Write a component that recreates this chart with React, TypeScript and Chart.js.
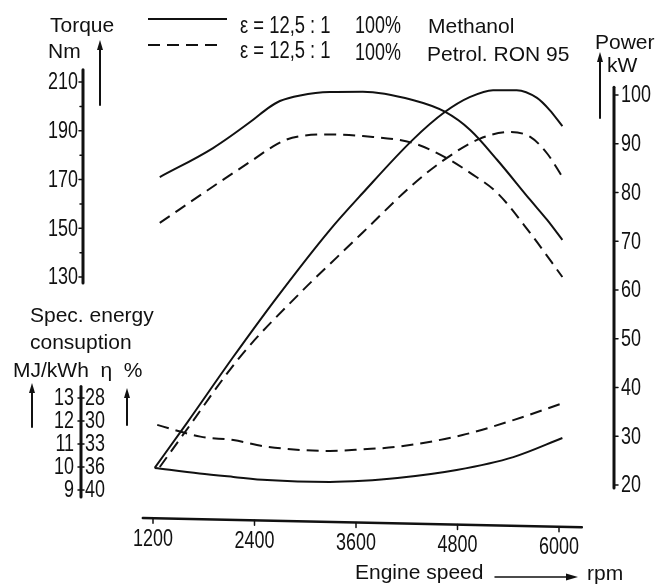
import React, { useEffect, useRef } from "react";
import { Chart, registerables } from "chart.js";

Chart.register(...registerables);

// ---------- data ----------
const rpmTorqueMethanol = [1280, 1910, 2380, 2560, 2700, 2940, 3290, 3680, 4270, 4650, 4950, 5270, 5660, 5860, 6040];
const torqueMethanol = [171.0, 182.9, 194.4, 199.3, 202.2, 204.5, 205.9, 206.0, 202.6, 197.8, 190.3, 178.0, 161.6, 153.4, 145.2];

const rpmTorquePetrol = [1280, 1960, 2380, 2620, 2780, 2940, 3290, 3680, 4270, 4650, 4950, 5270, 5660, 6040];
const torquePetrol = [152.2, 168.3, 178.0, 183.6, 186.4, 187.8, 188.5, 187.8, 185.0, 179.2, 172.7, 164.5, 148.0, 130.0];

const rpmPowerMethanol = [1220, 1600, 2150, 2670, 3290, 3680, 4270, 4650, 4950, 5220, 5500, 5740, 5890, 6040];
const powerMethanol = [23.5, 32.7, 46.3, 58.6, 72.3, 79.9, 90.8, 96.5, 99.6, 101.0, 101.0, 99.4, 96.9, 93.6];

const rpmPowerPetrol = [1280, 1580, 2230, 2940, 3380, 3680, 4270, 4650, 5060, 5420, 5660, 5860, 6040];
const powerPetrol = [23.7, 30.9, 46.3, 59.4, 66.8, 71.8, 81.6, 86.8, 91.0, 92.4, 91.4, 88.0, 83.2];

const rpmSecMethanol = [1220, 1750, 2150, 2550, 3290, 3680, 4090, 4790, 5460, 6040];
const secMethanol = [9.96, 9.72, 9.57, 9.43, 9.35, 9.40, 9.52, 9.87, 10.43, 11.26];

const rpmSecPetrol = [1250, 1760, 2150, 2550, 3290, 3680, 4090, 4860, 5460, 6040];
const secPetrol = [11.83, 11.32, 11.17, 10.88, 10.70, 10.77, 10.88, 11.39, 12.04, 12.77];

const rpmTicks = [1200, 2400, 3600, 4800, 6000];
const torqueTicks = [210, 190, 170, 150, 130];
const torqueMinorTicks = [200, 180, 160, 140];
const powerTicks = [100, 90, 80, 70, 60, 50, 40, 30, 20];
const secTicks = [13, 12, 11, 10, 9];
const etaTicks = [28, 30, 33, 36, 40];

const legendRatio = "ε = 12,5 : 1";
const legendShare = "100%";
const legendFuels = ["Methanol", "Petrol. RON 95"];

// ---------- layout ----------
const W = 660;
const H = 587;
function rangeFromAnchors(v1: number, p1: number, v2: number, p2: number, pStart: number, pEnd: number) {
  const k = (v2 - v1) / (p2 - p1);
  const a = v1 + (pStart - p1) * k;
  const b = v1 + (pEnd - p1) * k;
  return { min: Math.min(a, b), max: Math.max(a, b) };
}
const xRange = rangeFromAnchors(1200, 153, 6000, 559, 0, W);
const tRange = rangeFromAnchors(210, 82, 130, 277, 0, H);
const pRange = rangeFromAnchors(100, 95, 20, 485, 0, H);
const eRange = rangeFromAnchors(13, 398, 9, 490, 0, H);

const WORD_FONT = '21px "Liberation Sans", Arial, sans-serif';
const NUM_FONT = '23px "Liberation Sans", Arial, sans-serif';
const NUM_SQUEEZE = 0.78;
const INK = "#111";
const DASH = [12, 7];

function toXY(xs: number[], ys: number[]) {
  return xs.map((x, i) => ({ x, y: ys[i] }));
}

function squeezed(ctx: CanvasRenderingContext2D, text: string, x: number, y: number, align: CanvasTextAlign, k = NUM_SQUEEZE) {
  ctx.save();
  ctx.translate(x, y);
  ctx.scale(k, 1);
  ctx.textAlign = align;
  ctx.fillText(text, 0, 0);
  ctx.restore();
}

function arrowUp(ctx: CanvasRenderingContext2D, x: number, yTop: number, yBottom: number) {
  ctx.beginPath();
  ctx.moveTo(x, yBottom);
  ctx.lineTo(x, yTop + 6);
  ctx.stroke();
  ctx.beginPath();
  ctx.moveTo(x, yTop);
  ctx.lineTo(x - 3, yTop + 10);
  ctx.lineTo(x + 3, yTop + 10);
  ctx.closePath();
  ctx.fill();
}

const overlay = {
  id: "overlay",
  beforeDraw(chart: any) {
    const ctx = chart.ctx as CanvasRenderingContext2D;
    ctx.save();
    ctx.fillStyle = "#fff";
    ctx.fillRect(0, 0, chart.width, chart.height);
    ctx.restore();
  },
  afterDraw(chart: any) {
    const ctx = chart.ctx as CanvasRenderingContext2D;
    const sx = chart.scales.x;
    const sT = chart.scales.yT;
    const sP = chart.scales.yP;
    const sE = chart.scales.yE;
    ctx.save();
    ctx.strokeStyle = INK;
    ctx.fillStyle = INK;
    ctx.lineCap = "round";

    // ---- torque axis (left, top) ----
    const tx = 83;
    ctx.lineWidth = 3;
    ctx.beginPath();
    ctx.moveTo(tx, sT.getPixelForValue(215));
    ctx.lineTo(tx, sT.getPixelForValue(127.5));
    ctx.stroke();
    ctx.lineWidth = 1.5;
    torqueTicks.forEach((v) => {
      const y = sT.getPixelForValue(v);
      ctx.beginPath();
      ctx.moveTo(tx - 4, y);
      ctx.lineTo(tx, y);
      ctx.stroke();
    });
    torqueMinorTicks.forEach((v) => {
      const y = sT.getPixelForValue(v);
      ctx.beginPath();
      ctx.moveTo(tx - 3, y);
      ctx.lineTo(tx, y);
      ctx.stroke();
    });
    ctx.font = NUM_FONT;
    ctx.textBaseline = "middle";
    torqueTicks.forEach((v) => squeezed(ctx, String(v), tx - 5, sT.getPixelForValue(v) + 1, "right"));
    ctx.font = WORD_FONT;
    ctx.textAlign = "left";
    ctx.textBaseline = "alphabetic";
    ctx.fillText("Torque", 50, 32);
    ctx.fillText("Nm", 48, 58);
    ctx.lineWidth = 2;
    arrowUp(ctx, 100, 40, 105);

    // ---- power axis (right) ----
    const px = 614;
    ctx.lineWidth = 3;
    ctx.beginPath();
    ctx.moveTo(px, sP.getPixelForValue(101.6));
    ctx.lineTo(px, sP.getPixelForValue(19.4));
    ctx.stroke();
    ctx.lineWidth = 1.5;
    powerTicks.forEach((v) => {
      const y = sP.getPixelForValue(v);
      ctx.beginPath();
      ctx.moveTo(px, y);
      ctx.lineTo(px + 4, y);
      ctx.stroke();
    });
    ctx.font = NUM_FONT;
    ctx.textBaseline = "middle";
    powerTicks.forEach((v) => squeezed(ctx, String(v), px + 7, sP.getPixelForValue(v) + 1, "left"));
    ctx.font = WORD_FONT;
    ctx.textAlign = "left";
    ctx.textBaseline = "alphabetic";
    ctx.fillText("Power", 595, 49);
    ctx.fillText("kW", 607, 72);
    ctx.lineWidth = 2;
    arrowUp(ctx, 600, 52, 118);

    // ---- specific energy / efficiency axis ----
    const ex = 81;
    ctx.lineWidth = 3;
    ctx.beginPath();
    ctx.moveTo(ex, sE.getPixelForValue(13.5));
    ctx.lineTo(ex, sE.getPixelForValue(8.7));
    ctx.stroke();
    ctx.lineWidth = 1.5;
    secTicks.forEach((v) => {
      const y = sE.getPixelForValue(v);
      ctx.beginPath();
      ctx.moveTo(ex - 3, y);
      ctx.lineTo(ex + 3, y);
      ctx.stroke();
    });
    ctx.font = NUM_FONT;
    ctx.textBaseline = "middle";
    secTicks.forEach((v) => squeezed(ctx, String(v), ex - 7, sE.getPixelForValue(v) + 1, "right"));
    secTicks.forEach((v, i) => squeezed(ctx, String(etaTicks[i]), ex + 4, sE.getPixelForValue(v) + 1, "left"));
    ctx.font = WORD_FONT;
    ctx.textAlign = "left";
    ctx.textBaseline = "alphabetic";
    ctx.fillText("Spec. energy", 30, 322);
    ctx.fillText("consuption", 30, 349);
    ctx.fillText("MJ/kWh  η  %", 13, 377);
    ctx.lineWidth = 2;
    arrowUp(ctx, 32, 383, 427);
    arrowUp(ctx, 127, 388, 425);

    // ---- x axis (slightly tilted, as in the scan) ----
    const axisY = (x: number) => 518 + ((x - 143) * 9) / 429;
    const x0 = sx.getPixelForValue(1080);
    const x1 = sx.getPixelForValue(6270);
    ctx.lineWidth = 2.5;
    ctx.beginPath();
    ctx.moveTo(x0, axisY(x0));
    ctx.lineTo(x1, axisY(x1));
    ctx.stroke();
    ctx.lineWidth = 1.5;
    ctx.font = NUM_FONT;
    ctx.textBaseline = "middle";
    rpmTicks.forEach((r) => {
      const x = sx.getPixelForValue(r);
      const y = axisY(x);
      ctx.beginPath();
      ctx.moveTo(x, y);
      ctx.lineTo(x, y + 5);
      ctx.stroke();
      squeezed(ctx, String(r), x, y + 21, "center");
    });
    ctx.font = WORD_FONT;
    ctx.textAlign = "left";
    ctx.textBaseline = "alphabetic";
    ctx.fillText("Engine speed", 355, 579);
    ctx.fillText("rpm", 587, 580);
    ctx.lineWidth = 1.5;
    ctx.beginPath();
    ctx.moveTo(495, 577);
    ctx.lineTo(568, 577);
    ctx.stroke();
    ctx.beginPath();
    ctx.moveTo(578, 577);
    ctx.lineTo(566, 573.5);
    ctx.lineTo(566, 580.5);
    ctx.closePath();
    ctx.fill();

    // ---- legend ----
    ctx.lineWidth = 2;
    ctx.lineCap = "butt";
    ctx.beginPath();
    ctx.moveTo(148, 19);
    ctx.lineTo(227, 19);
    ctx.stroke();
    ctx.setLineDash(DASH);
    ctx.beginPath();
    ctx.moveTo(148, 45);
    ctx.lineTo(224, 45);
    ctx.stroke();
    ctx.setLineDash([]);
    ctx.font = NUM_FONT;
    squeezed(ctx, legendRatio, 240, 33, "left", 0.8);
    squeezed(ctx, legendRatio, 240, 58, "left", 0.8);
    squeezed(ctx, legendShare, 355, 33, "left");
    squeezed(ctx, legendShare, 355, 60, "left");
    ctx.font = WORD_FONT;
    ctx.textAlign = "left";
    ctx.fillText(legendFuels[0], 428, 33);
    ctx.fillText(legendFuels[1], 427, 61);

    ctx.restore();
  },
};

export default function App() {
  const ref = useRef<HTMLCanvasElement>(null);

  useEffect(() => {
    document.body.style.margin = "0";
    const solid = { borderColor: INK, borderWidth: 2, pointRadius: 0, fill: false, cubicInterpolationMode: "monotone" as const };
    const dashed = { ...solid, borderDash: DASH };
    const chart = new Chart(ref.current as HTMLCanvasElement, {
      type: "line",
      data: {
        datasets: [
          { label: "Torque Methanol", data: toXY(rpmTorqueMethanol, torqueMethanol), yAxisID: "yT", ...solid },
          { label: "Torque Petrol", data: toXY(rpmTorquePetrol, torquePetrol), yAxisID: "yT", ...dashed },
          { label: "Power Methanol", data: toXY(rpmPowerMethanol, powerMethanol), yAxisID: "yP", ...solid },
          { label: "Power Petrol", data: toXY(rpmPowerPetrol, powerPetrol), yAxisID: "yP", ...dashed },
          { label: "Spec. energy Methanol", data: toXY(rpmSecMethanol, secMethanol), yAxisID: "yE", ...solid },
          { label: "Spec. energy Petrol", data: toXY(rpmSecPetrol, secPetrol), yAxisID: "yE", ...dashed },
        ] as any,
      },
      options: {
        animation: false,
        responsive: false,
        devicePixelRatio: 1,
        layout: { padding: 0 },
        plugins: { legend: { display: false }, tooltip: { enabled: false } },
        scales: {
          x: { type: "linear", min: xRange.min, max: xRange.max, display: false },
          yT: { type: "linear", min: tRange.min, max: tRange.max, display: false },
          yP: { type: "linear", min: pRange.min, max: pRange.max, display: false },
          yE: { type: "linear", min: eRange.min, max: eRange.max, display: false },
        },
      },
      plugins: [overlay],
    });
    return () => chart.destroy();
  }, []);

  return <canvas ref={ref} width={W} height={H} style={{ display: "block", width: W, height: H }} />;
}
